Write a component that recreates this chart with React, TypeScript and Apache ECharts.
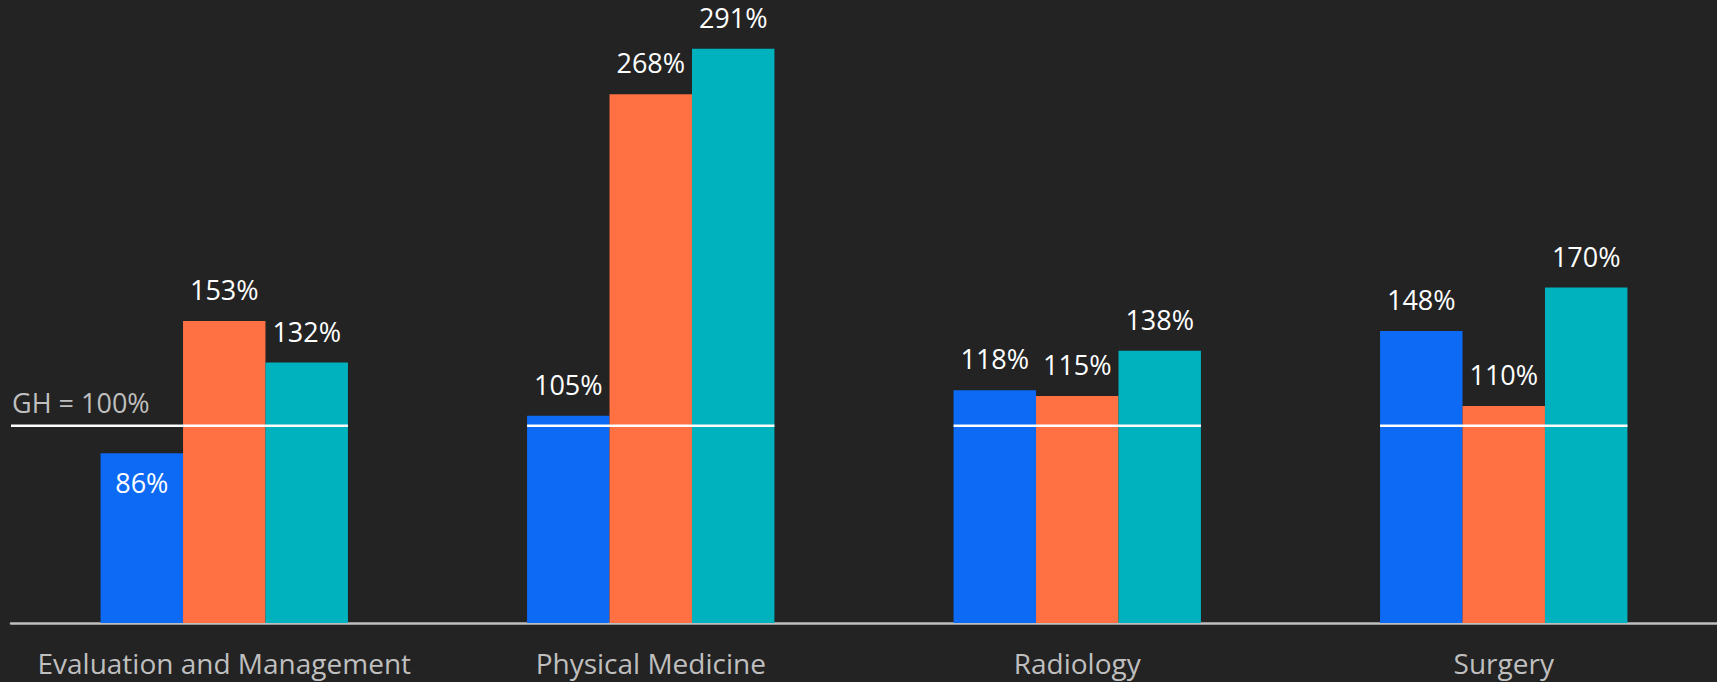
import React, { useEffect, useRef } from "react";
import * as echarts from "echarts";

const categories = ["Evaluation and Management", "Physical Medicine", "Radiology", "Surgery"];
const seriesA = [86, 105, 118, 148];
const seriesB = [153, 268, 115, 110];
const seriesC = [132, 291, 138, 170];
const benchmark = 100;
const benchmarkLabel = "GH = 100%";

const BG = "#232323";
const FONT = "Open Sans";
const CATEGORY_GAP = 0.42;

export default function App() {
  const ref = useRef<HTMLDivElement>(null);

  useEffect(() => {
    document.body.style.margin = "0";
    document.body.style.background = BG;
    const chart = echarts.init(ref.current!, null, { renderer: "svg" });

    const barLabel = {
      show: true,
      position: "top",
      distance: 18,
      color: "#ffffff",
      fontSize: 27,
      fontFamily: FONT,
      formatter: "{c}%",
    };

    const toData = (vals: number[]) =>
      vals.map((v) =>
        v < benchmark
          ? { value: v, label: { position: "insideTop", distance: 16 } }
          : { value: v }
      );

    const makeBar = (name: string, vals: number[], color: string) => ({
      name,
      type: "bar",
      data: toData(vals),
      barGap: "0%",
      barCategoryGap: CATEGORY_GAP * 100 + "%",
      itemStyle: { color },
      label: barLabel,
      z: 2,
    });

    chart.setOption({
      animation: false,
      backgroundColor: BG,
      grid: { left: 11, right: 0, top: 31, bottom: 59, containLabel: false },
      xAxis: {
        type: "category",
        data: categories,
        axisLine: { show: true, lineStyle: { color: "#bfbfbf", width: 2.5 } },
        axisTick: { show: false },
        axisLabel: {
          interval: 0,
          color: "#bfbfbf",
          fontSize: 28,
          fontFamily: FONT,
          margin: 26,
        },
      },
      yAxis: {
        type: "value",
        min: 0,
        max: 300,
        show: false,
        splitLine: { show: false },
      },
      series: [
        makeBar("A", seriesA, "#0D6AF5"),
        makeBar("B", seriesB, "#FF7043"),
        makeBar("C", seriesC, "#00B2BE"),
        {
          type: "custom",
          z: 5,
          data: categories.map((_, i) => [i, benchmark]),
          renderItem: (params: any, api: any) => {
            const idx = api.value(0);
            const pt = api.coord([idx, api.value(1)]);
            const band = api.size([1, 0])[0];
            const groupW = band * (1 - CATEGORY_GAP);
            const x1 = idx === 0 ? params.coordSys.x : pt[0] - groupW / 2;
            const x2 = pt[0] + groupW / 2;
            const children: any[] = [
              {
                type: "line",
                shape: { x1, y1: pt[1], x2, y2: pt[1] },
                style: { stroke: "#ffffff", lineWidth: 2.5 },
              },
            ];
            if (idx === 0) {
              children.push({
                type: "text",
                x: params.coordSys.x + 1,
                y: pt[1] - 10,
                style: {
                  text: benchmarkLabel,
                  fill: "#bfbfbf",
                  font: `27px "${FONT}"`,
                  textAlign: "left",
                  textVerticalAlign: "bottom",
                },
              });
            }
            return { type: "group", children };
          },
        },
      ],
    });

    return () => chart.dispose();
  }, []);

  return <div ref={ref} style={{ width: 1717, height: 682 }} />;
}
